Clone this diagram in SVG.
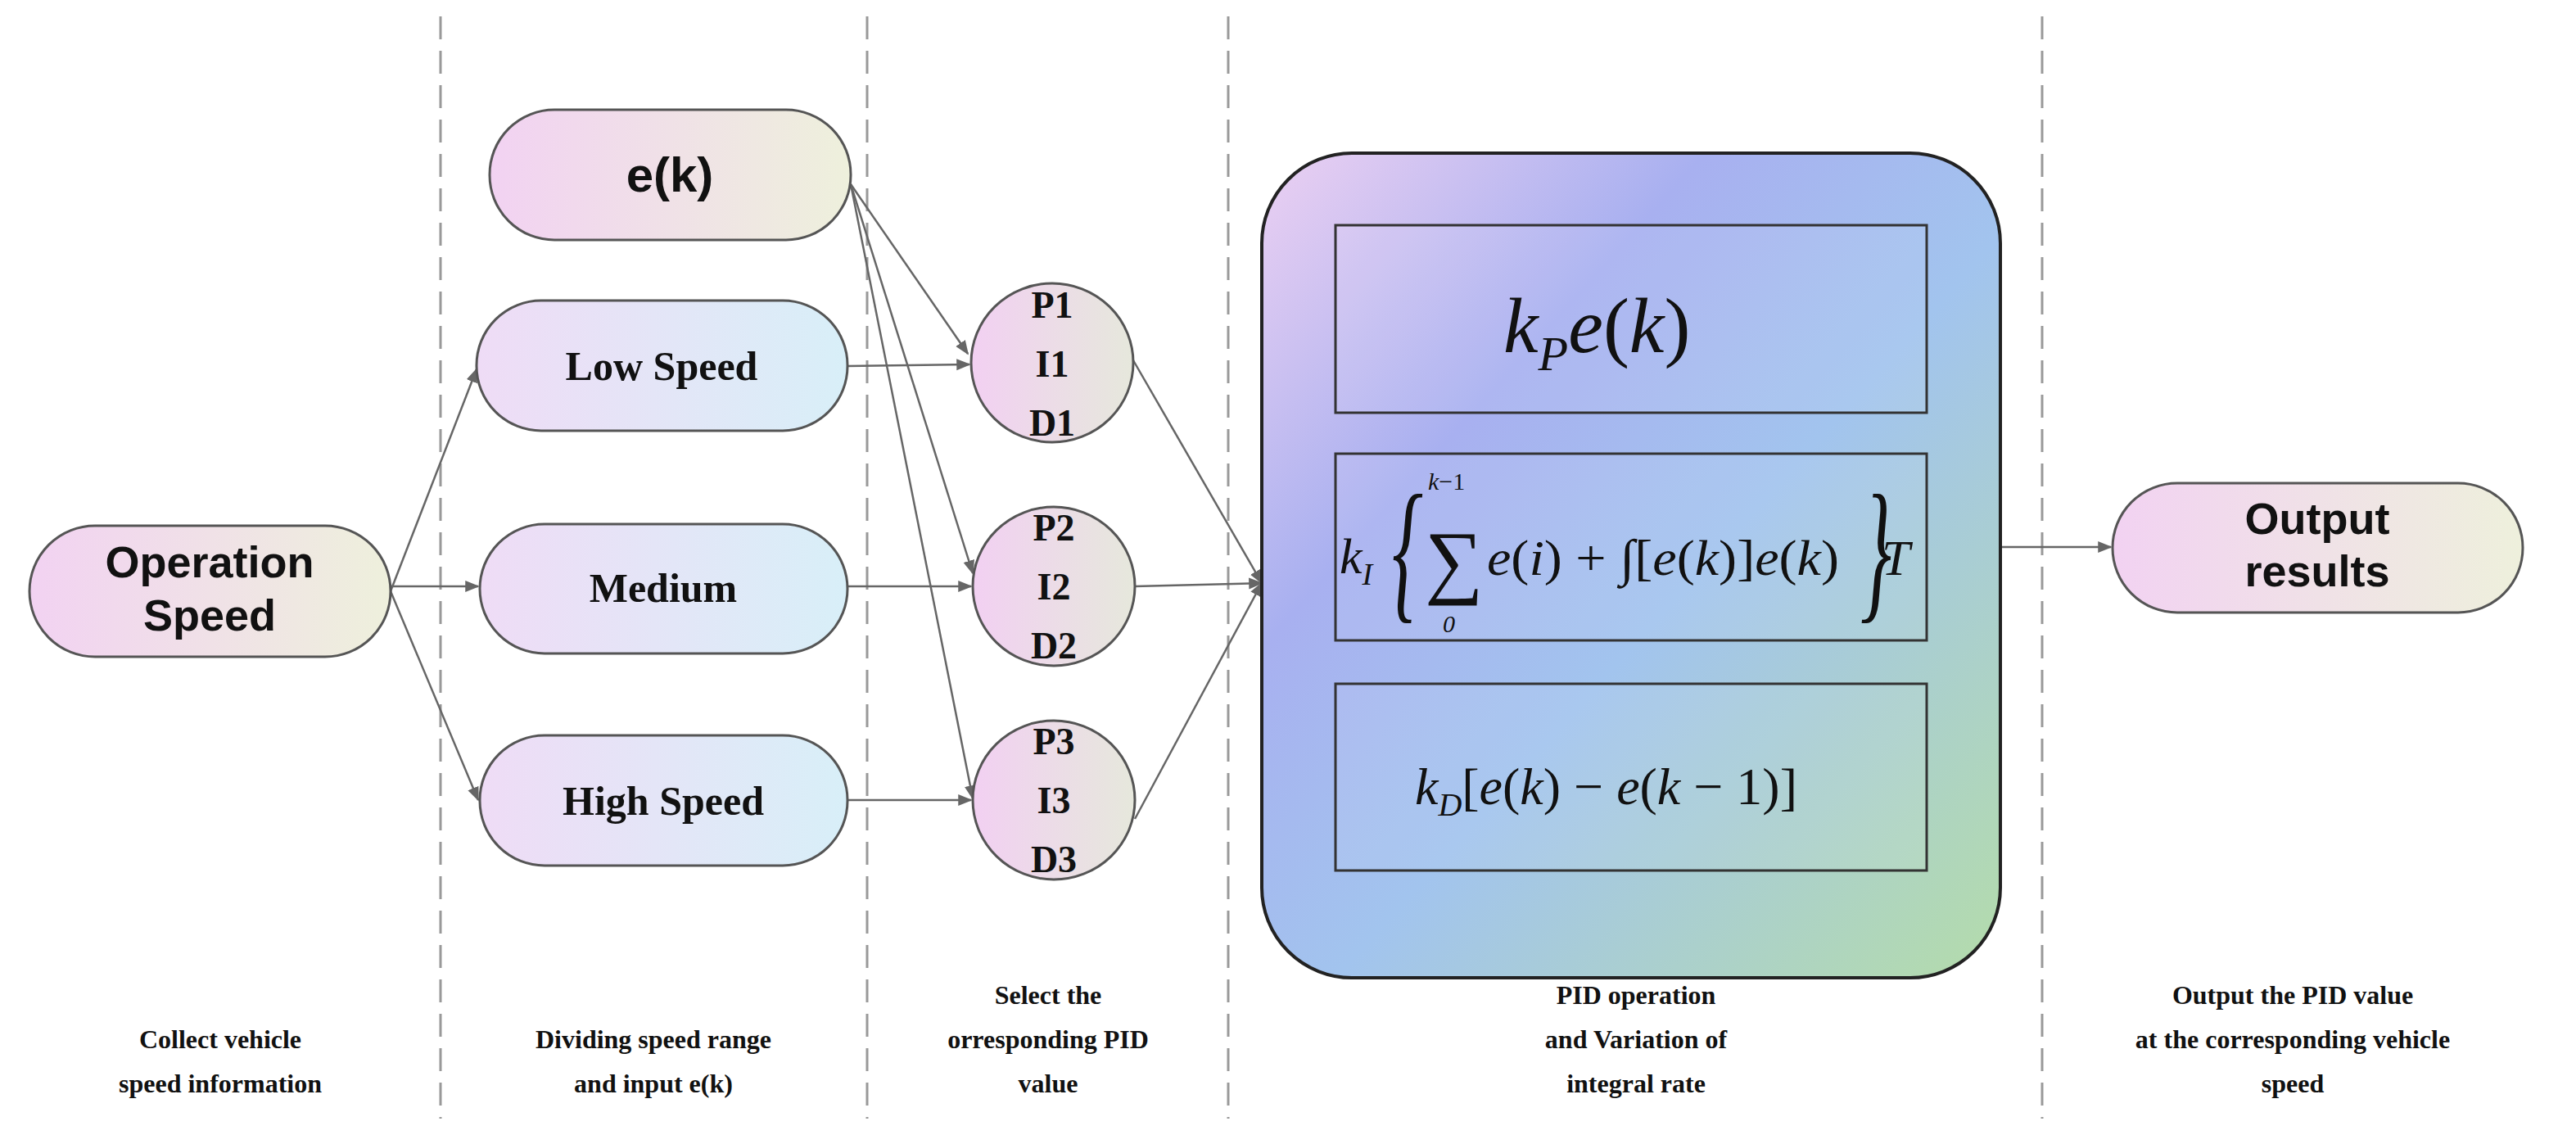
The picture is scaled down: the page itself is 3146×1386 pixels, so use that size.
<svg xmlns="http://www.w3.org/2000/svg" width="3146" height="1386" viewBox="0 0 3146 1386">
<defs>
<linearGradient id="gPill" x1="0" y1="0" x2="1" y2="0"><stop offset="0" stop-color="#f2d2f2"/><stop offset="1" stop-color="#eef0dc"/></linearGradient>
<linearGradient id="gSpeed" x1="0" y1="0" x2="1" y2="0"><stop offset="0" stop-color="#efdcf6"/><stop offset="1" stop-color="#d8eff8"/></linearGradient>
<linearGradient id="gCirc" x1="0" y1="0" x2="1" y2="0"><stop offset="0" stop-color="#f2d0f2"/><stop offset="1" stop-color="#e6e8dc"/></linearGradient>
<linearGradient id="gBig" x1="0" y1="0" x2="1" y2="1"><stop offset="0" stop-color="#ecd0f2"/><stop offset="0.3" stop-color="#a8b0f0"/><stop offset="0.55" stop-color="#a2c4ee"/><stop offset="1" stop-color="#b4dcaa"/></linearGradient>
<marker id="ar" viewBox="0 0 10 10" refX="9" refY="5" markerWidth="7" markerHeight="7" orient="auto"><path d="M0,1 L10,5 L0,9 Z" fill="#666"/></marker>
<style>
.pill{stroke:#555;stroke-width:3}
.dash{stroke:#999;stroke-width:3;stroke-dasharray:28 14}
.c{stroke:#666;stroke-width:2.5;fill:none;marker-end:url(#ar)}
.sans{font-family:"Liberation Sans",Arial,sans-serif;font-weight:bold;fill:#111;text-anchor:middle}
.ser{font-family:"Liberation Serif","Times New Roman",serif;font-weight:bold;fill:#111;text-anchor:middle}
.lab{font-family:"Liberation Serif","Times New Roman",serif;font-weight:bold;fill:#111;text-anchor:middle;font-size:32px}
.m{font-family:"Liberation Serif","Times New Roman",serif;font-style:italic;fill:#111}
.inner{fill:#ffffff;fill-opacity:0.08;stroke:#333;stroke-width:3}
</style>
</defs>
<rect width="3146" height="1386" fill="#fff"/>
<g id="dividers">
<line class="dash" x1="538" y1="20" x2="538" y2="1366"/>
<line class="dash" x1="1059" y1="20" x2="1059" y2="1366"/>
<line class="dash" x1="1500" y1="20" x2="1500" y2="1366"/>
<line class="dash" x1="2494" y1="20" x2="2494" y2="1366"/>
</g>
<g id="connectors">
<line class="c" x1="477" y1="722" x2="582" y2="451"/>
<line class="c" x1="477" y1="716" x2="584" y2="716"/>
<line class="c" x1="477" y1="722" x2="584" y2="977"/>
<line class="c" x1="1039" y1="225" x2="1182" y2="432"/>
<line class="c" x1="1039" y1="225" x2="1188" y2="700"/>
<line class="c" x1="1039" y1="225" x2="1188" y2="975"/>
<line class="c" x1="1035" y1="447" x2="1184" y2="445"/>
<line class="c" x1="1035" y1="716" x2="1186" y2="716"/>
<line class="c" x1="1035" y1="977" x2="1186" y2="977"/>
<line class="c" x1="1384" y1="440" x2="1541" y2="712"/>
<line class="c" x1="1386" y1="716" x2="1541" y2="712"/>
<line class="c" x1="1386" y1="1000" x2="1541" y2="712"/>
<line class="c" x1="2443" y1="668" x2="2578" y2="668"/>
</g>
<g id="op"><rect class="pill" x="36" y="642" width="441" height="160" rx="80" fill="url(#gPill)"/><text class="sans" font-size="54" x="256" y="705">Operation</text><text class="sans" font-size="54" x="256" y="770">Speed</text></g>
<g id="ek"><rect class="pill" x="598" y="134" width="441" height="159" rx="79" fill="url(#gPill)"/><text class="sans" font-size="60" x="818" y="234">e(k)</text></g>
<g id="low"><rect class="pill" x="582" y="367" width="453" height="159" rx="79" stroke="#888" fill="url(#gSpeed)"/><text class="ser" font-size="50" x="808" y="464">Low Speed</text></g>
<g id="med"><rect class="pill" x="586" y="640" width="449" height="158" rx="79" stroke="#888" fill="url(#gSpeed)"/><text class="ser" font-size="50" x="810" y="735">Medium</text></g>
<g id="high"><rect class="pill" x="586" y="898" width="449" height="159" rx="79" stroke="#888" fill="url(#gSpeed)"/><text class="ser" font-size="50" x="810" y="995">High Speed</text></g>
<g id="pid1"><ellipse class="pill" cx="1285" cy="443" rx="99" ry="97" fill="url(#gCirc)"/><text class="ser" font-size="46" x="1285" y="388">P1</text><text class="ser" font-size="46" x="1285" y="460">I1</text><text class="ser" font-size="46" x="1285" y="532">D1</text></g>
<g id="pid2"><ellipse class="pill" cx="1287" cy="716" rx="99" ry="97" fill="url(#gCirc)"/><text class="ser" font-size="46" x="1287" y="660">P2</text><text class="ser" font-size="46" x="1287" y="732">I2</text><text class="ser" font-size="46" x="1287" y="804">D2</text></g>
<g id="pid3"><ellipse class="pill" cx="1287" cy="977" rx="99" ry="97" fill="url(#gCirc)"/><text class="ser" font-size="46" x="1287" y="921">P3</text><text class="ser" font-size="46" x="1287" y="993">I3</text><text class="ser" font-size="46" x="1287" y="1065">D3</text></g>
<g id="pidop">
<rect x="1541" y="187" width="902" height="1007" rx="110" fill="url(#gBig)" stroke="#222" stroke-width="4"/>
<rect class="inner" x="1631" y="275" width="722" height="229"/>
<rect class="inner" x="1631" y="554" width="722" height="228"/>
<rect class="inner" x="1631" y="835" width="722" height="228"/>
<text class="m" font-size="96" x="1836" y="430">k<tspan font-size="60" dy="22">P</tspan><tspan dy="-22">e</tspan><tspan font-style="normal">(</tspan>k<tspan font-style="normal">)</tspan></text>
<text class="m" font-size="62" x="1636" y="700">k<tspan font-size="38" dy="14">I</tspan></text>
<text class="m" font-size="190" x="1700" y="735" font-style="normal" transform="translate(1700 700) scale(0.5 1) translate(-1700 -700)">{</text>
<text class="m" font-size="100" x="1740" y="718" font-style="normal">∑</text>
<text class="m" font-size="30" x="1744" y="598">k<tspan font-style="normal">−1</tspan></text>
<text class="m" font-size="30" x="1762" y="772" font-style="normal">0</text>
<text class="m" font-size="62" x="1816" y="702" textLength="430" lengthAdjust="spacingAndGlyphs">e<tspan font-style="normal">(</tspan>i<tspan font-style="normal">) + ∫[</tspan>e<tspan font-style="normal">(</tspan>k<tspan font-style="normal">)]</tspan>e<tspan font-style="normal">(</tspan>k<tspan font-style="normal">)</tspan></text>
<text class="m" font-size="190" x="2272" y="735" font-style="normal" transform="translate(2272 700) scale(0.5 1) translate(-2272 -700)">}</text>
<text class="m" font-size="62" x="2298" y="702">T</text>
<text class="m" font-size="64" x="1728" y="982">k<tspan font-size="40" dy="14">D</tspan><tspan dy="-14" font-style="normal">[</tspan>e<tspan font-style="normal">(</tspan>k<tspan font-style="normal">) − </tspan>e<tspan font-style="normal">(</tspan>k<tspan font-style="normal"> − 1)]</tspan></text>
</g>
<g id="out"><rect class="pill" x="2580" y="590" width="501" height="158" rx="79" fill="url(#gPill)"/><text class="sans" font-size="54" x="2830" y="652">Output</text><text class="sans" font-size="54" x="2830" y="716">results</text></g>
<g id="labels">
<text class="lab" x="269" y="1280">Collect vehicle</text><text class="lab" x="269" y="1334">speed information</text>
<text class="lab" x="798" y="1280">Dividing speed range</text><text class="lab" x="798" y="1334">and input e(k)</text>
<text class="lab" x="1280" y="1226">Select the</text><text class="lab" x="1280" y="1280">orresponding PID</text><text class="lab" x="1280" y="1334">value</text>
<text class="lab" x="1998" y="1226">PID operation</text><text class="lab" x="1998" y="1280">and Variation of</text><text class="lab" x="1998" y="1334">integral rate</text>
<text class="lab" x="2800" y="1226">Output the PID value</text><text class="lab" x="2800" y="1280">at the corresponding vehicle</text><text class="lab" x="2800" y="1334">speed</text>
</g>
</svg>
